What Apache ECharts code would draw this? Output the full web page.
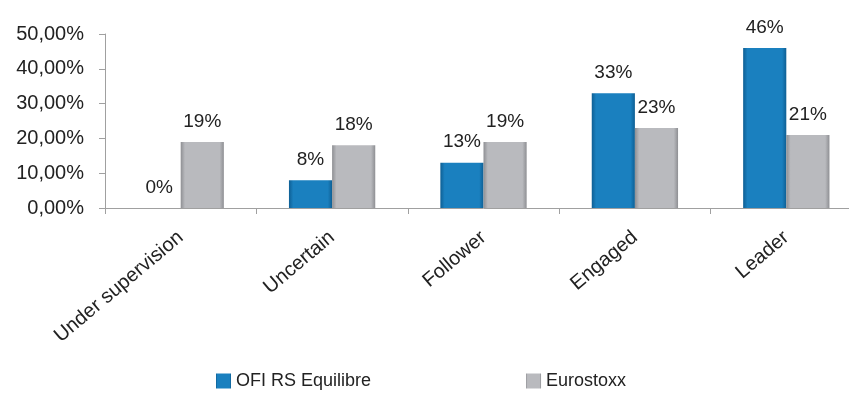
<!DOCTYPE html>
<html>
<head>
<meta charset="utf-8">
<script src="https://cdn.jsdelivr.net/npm/echarts@6/dist/echarts.min.js"></script>
<style>
  html, body { margin: 0; padding: 0; background: #fff; overflow: hidden; }
  /* the x axis runs past the right edge in the source picture */
  #chart { width: 862px; height: 408px; }
</style>
</head>
<body>
<div id="chart"></div>
<script>
var categories = ["Under supervision", "Uncertain", "Follower", "Engaged", "Leader"];
var ofiValues = [0, 0.08, 0.13, 0.33, 0.46];
var euroValues = [0.19, 0.18, 0.19, 0.23, 0.21];
var seriesNames = ["OFI RS Equilibre", "Eurostoxx"];

var chart = echarts.init(document.getElementById("chart"));

function pct(v) {
  return Math.round(v * 100) + "%";
}

// bevel look: darker edges, lighter middle
function bevel(edge, mid) {
  return new echarts.graphic.LinearGradient(0, 0, 1, 0, [
    { offset: 0, color: edge },
    { offset: 0.1, color: mid },
    { offset: 0.9, color: mid },
    { offset: 1, color: edge }
  ]);
}

var labelStyle = {
  show: true,
  position: "top",
  distance: 11,
  fontFamily: "Liberation Sans, Arial, sans-serif",
  fontSize: 19,
  color: "#222",
  formatter: function (p) { return pct(p.value); }
};

var option = {
  animation: false,
  grid: { left: 105, right: 0, top: 34, bottom: 200 },
  legend: {
    bottom: 13,
    left: 211,
    itemGap: 155,
    itemWidth: 15,
    itemHeight: 15,
    icon: "rect",
    textStyle: {
      fontFamily: "Liberation Sans Narrow, Liberation Sans, Arial, sans-serif",
      fontSize: 18,
      color: "#222"
    },
    data: seriesNames
  },
  xAxis: {
    type: "category",
    data: categories,
    axisLine: { lineStyle: { color: "#a0a0a0" } },
    axisTick: { show: true, length: 6, lineStyle: { color: "#a0a0a0" } },
    axisLabel: {
      rotate: 40,
      interval: 0,
      margin: 27,
      fontFamily: "Liberation Sans, Arial, sans-serif",
      fontSize: 20,
      color: "#222"
    }
  },
  yAxis: {
    type: "value",
    min: 0,
    max: 0.5,
    interval: 0.1,
    splitLine: { show: false },
    axisLine: { show: true, lineStyle: { color: "#a0a0a0" } },
    axisTick: { show: true, length: 6, lineStyle: { color: "#a0a0a0" } },
    axisLabel: {
      margin: 21,
      fontFamily: "Liberation Sans, Arial, sans-serif",
      fontSize: 20,
      color: "#222",
      formatter: function (v) { return (v * 100).toFixed(2).replace(".", ",") + "%"; }
    }
  },
  series: [
    {
      name: seriesNames[0],
      type: "bar",
      data: ofiValues,
      barGap: "0%",
      barCategoryGap: "43%",
      itemStyle: { color: bevel("#0e5f94", "#1a80bf") },
      label: labelStyle
    },
    {
      name: seriesNames[1],
      type: "bar",
      data: euroValues,
      itemStyle: { color: bevel("#8e8f93", "#b9babe") },
      label: labelStyle
    }
  ]
};

chart.setOption(option);
</script>
</body>
</html>
